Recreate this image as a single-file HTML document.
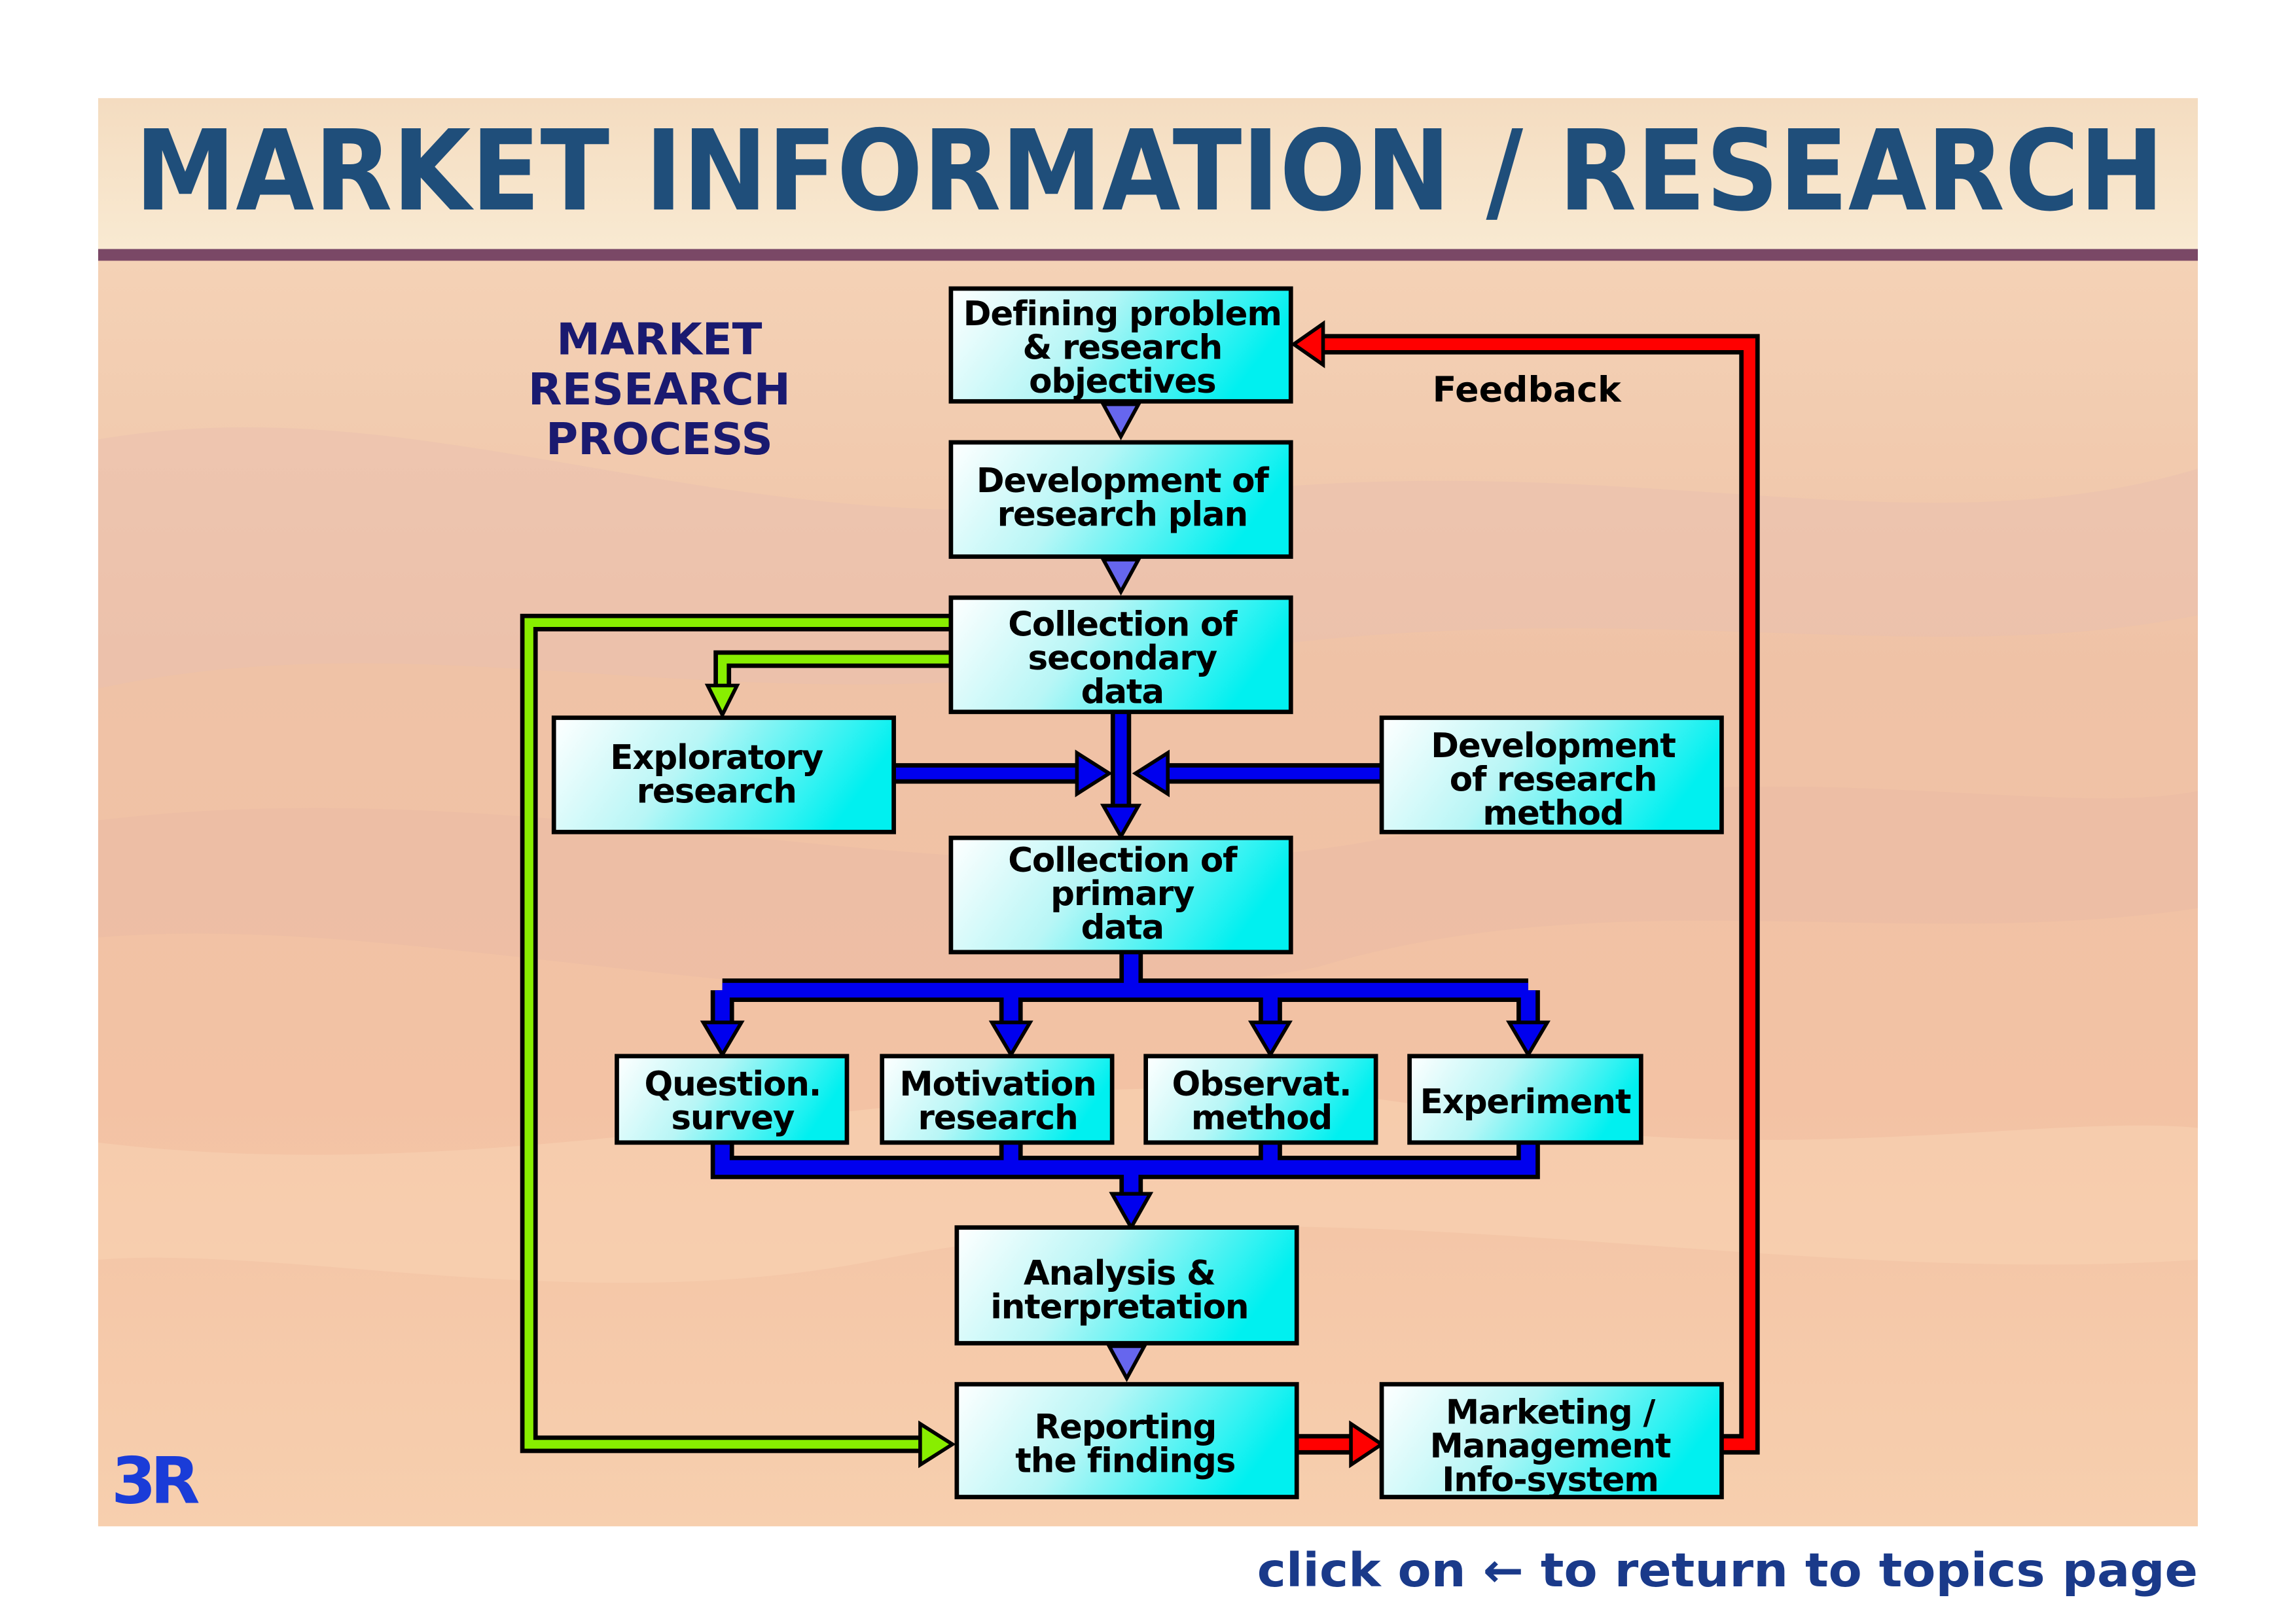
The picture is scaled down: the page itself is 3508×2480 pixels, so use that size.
<!DOCTYPE html>
<html><head><meta charset="utf-8"><style>
html,body{margin:0;padding:0;background:#fff}
svg{display:block}
text{font-family:"DejaVu Sans","Liberation Sans",sans-serif;font-weight:bold}
</style></head><body>
<svg width="3508" height="2480" viewBox="0 0 1567 1108" preserveAspectRatio="none" xmlns="http://www.w3.org/2000/svg">
<defs>
<linearGradient id="bx" x1="0" y1="0" x2="1" y2="0.25">
<stop offset="0" stop-color="#ffffff"/><stop offset="0.45" stop-color="#b8f6f6"/><stop offset="1" stop-color="#00f0f0"/></linearGradient>
<linearGradient id="hd" x1="0" y1="0" x2="0" y2="1">
<stop offset="0" stop-color="#f4dcc0"/><stop offset="1" stop-color="#f9ead2"/></linearGradient>
<linearGradient id="bg" x1="0" y1="0" x2="0" y2="1">
<stop offset="0" stop-color="#f6d8bc"/><stop offset="0.4" stop-color="#efc2a6"/><stop offset="0.7" stop-color="#f3c2a4"/><stop offset="1" stop-color="#f7cfae"/></linearGradient>
</defs>
<rect x="67" y="67" width="1433" height="975" fill="url(#bg)"/>
<path d="M67 300 C300 260 500 380 800 340 C1100 300 1300 380 1500 320 L1500 420 C1300 460 1100 400 800 450 C500 500 300 420 67 470Z" fill="#e9bfb0" opacity="0.5"/>
<path d="M67 560 C400 520 700 640 1000 560 C1200 510 1400 560 1500 540 L1500 620 C1300 650 1100 600 900 660 C600 720 300 620 67 640Z" fill="#e8b9a6" opacity="0.4"/>
<path d="M67 780 C400 820 700 700 1000 760 C1200 800 1400 760 1500 770 L1500 860 C1200 880 900 800 600 860 C400 900 200 850 67 860Z" fill="#f8d2b2" opacity="0.6"/>
<rect x="67" y="67" width="1433" height="104" fill="url(#hd)"/>
<rect x="67" y="170" width="1433" height="8" fill="#7a4866"/>
<text x="92" y="143" font-size="76" fill="#1f4e7a" textLength="1385" lengthAdjust="spacingAndGlyphs">MARKET INFORMATION / RESEARCH</text>
<g font-size="30" fill="#1a1a70" text-anchor="middle">
<text x="450" y="242">MARKET</text><text x="450" y="276">RESEARCH</text><text x="450" y="310">PROCESS</text></g>
<text x="1042" y="274" font-size="24" fill="#000" text-anchor="middle">Feedback</text>

<g fill="none" stroke-linejoin="miter">
<path d="M649 425 H361 V986 H630" stroke="#000" stroke-width="12"/>
<path d="M649 425 H361 V986 H630" stroke="#88ee00" stroke-width="6"/>
<path d="M649 450 H493 V470" stroke="#000" stroke-width="12"/>
<path d="M649 450 H493 V470" stroke="#88ee00" stroke-width="6"/>
<path d="M1175 986 H1194 V235 H900" stroke="#000" stroke-width="14"/>
<path d="M1175 986 H1194 V235 H900" stroke="#ff0000" stroke-width="8"/>
<path d="M765 486 V552 M610 528 H738 M943 528 H795" stroke="#000" stroke-width="14"/>
<path d="M765 486 V552 M610 528 H738 M943 528 H795" stroke="#0000ee" stroke-width="8"/>
<path d="M772 650 V676 M493 676 H1043 M493 676 V700 M690 676 V700 M867 676 V700 M1043 676 V700" stroke="#000" stroke-width="16"/>
<path d="M772 650 V676 M493 676 H1043 M493 676 V700 M690 676 V700 M867 676 V700 M1043 676 V700" stroke="#0000ee" stroke-width="10"/>
<path d="M493 780 V797 H1043 V780 M690 780 V797 M867 780 V797 M772 797 V818" stroke="#000" stroke-width="16"/>
<path d="M493 780 V797 H1043 V780 M690 780 V797 M867 780 V797 M772 797 V818" stroke="#0000ee" stroke-width="10"/>
<path d="M885 986 H925" stroke="#000" stroke-width="14"/>
<path d="M885 986 H925" stroke="#ff0000" stroke-width="8"/>
</g>
<g stroke="#000" stroke-width="2.5">
<polygon points="483,468 503,468 493,488" fill="#88ee00"/>
<polygon points="628,972 628,1000 650,986" fill="#88ee00"/>
<polygon points="903,221 903,249 883,235" fill="#ff0000"/>
<polygon points="922,972 922,1000 943,986" fill="#ff0000"/>
<polygon points="735,514 735,542 757,528" fill="#0000ee"/>
<polygon points="797,514 797,542 775,528" fill="#0000ee"/>
<polygon points="753,550 777,550 765,571" fill="#0000ee"/>
<polygon points="480,698 506,698 493,720" fill="#0000ee"/>
<polygon points="677,698 703,698 690,720" fill="#0000ee"/>
<polygon points="854,698 880,698 867,720" fill="#0000ee"/>
<polygon points="1030,698 1056,698 1043,720" fill="#0000ee"/>
<polygon points="759,815 785,815 772,838" fill="#0000ee"/>
<polygon points="753,276 777,276 765,298" fill="#6666ee"/>
<polygon points="753,382 777,382 765,404" fill="#6666ee"/>
<polygon points="757,919 781,919 769,941" fill="#6666ee"/>
</g>

<g fill="url(#bx)" stroke="#000" stroke-width="3">
<rect x="649" y="197" width="232" height="77"/>
<rect x="649" y="302" width="232" height="78"/>
<rect x="649" y="408" width="232" height="78"/>
<rect x="378" y="490" width="232" height="78"/>
<rect x="943" y="490" width="232" height="78"/>
<rect x="649" y="572" width="232" height="78"/>
<rect x="421" y="721" width="157" height="59"/>
<rect x="602" y="721" width="157" height="59"/>
<rect x="782" y="721" width="157" height="59"/>
<rect x="962" y="721" width="158" height="59"/>
<rect x="653" y="838" width="232" height="79"/>
<rect x="653" y="945" width="232" height="77"/>
<rect x="943" y="945" width="232" height="77"/>
</g>
<g font-size="23" fill="#000" text-anchor="middle" letter-spacing="-0.5">
<text x="766" y="222">Defining problem</text><text x="766" y="245">&amp; research</text><text x="766" y="268">objectives</text>
<text x="766" y="336">Development of</text><text x="766" y="359">research plan</text>
<text x="766" y="434">Collection of</text><text x="766" y="457">secondary</text><text x="766" y="480">data</text>
<text x="489" y="525">Exploratory</text><text x="489" y="548">research</text>
<text x="1060" y="517">Development</text><text x="1060" y="540">of research</text><text x="1060" y="563">method</text>
<text x="766" y="595">Collection of</text><text x="766" y="618">primary</text><text x="766" y="641">data</text>
<text x="500" y="748">Question.</text><text x="500" y="771">survey</text>
<text x="681" y="748">Motivation</text><text x="681" y="771">research</text>
<text x="861" y="748">Observat.</text><text x="861" y="771">method</text>
<text x="1041" y="760">Experiment</text>
<text x="764" y="877">Analysis &amp;</text><text x="764" y="900">interpretation</text>
<text x="768" y="982">Reporting</text><text x="768" y="1005">the findings</text>
<text x="1058" y="972">Marketing /</text><text x="1058" y="995">Management</text><text x="1058" y="1018">Info-system</text>
</g>
<text x="76" y="1026" font-size="44" fill="#1a3cd8" letter-spacing="-4">3R</text>
<text x="858" y="1083" font-size="32" fill="#1a3a8a" textLength="642" lengthAdjust="spacingAndGlyphs">click on ← to return to topics page</text>
</svg>
</body></html>
